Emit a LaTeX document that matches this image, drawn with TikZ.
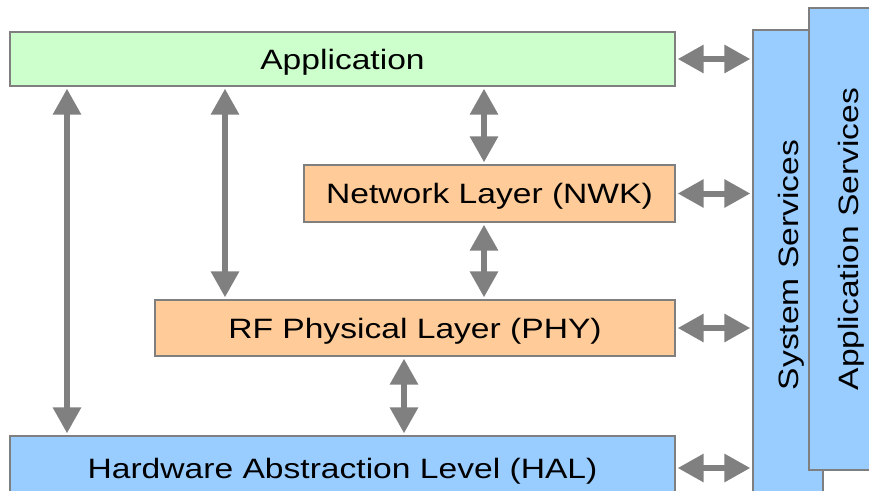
\documentclass[tikz,border=0pt]{standalone}
\usepackage{fontspec}
\setmainfont{Liberation Sans}[FakeStretch=1.2]
\usetikzlibrary{arrows.meta}
\definecolor{boxgreen}{HTML}{CCFFCC}
\definecolor{boxorange}{HTML}{FFCC99}
\definecolor{boxblue}{HTML}{99CCFF}
\definecolor{edgegray}{HTML}{7F7F7F}
\definecolor{arrgray}{HTML}{808080}
\tikzset{
  layer/.style={draw=edgegray, line width=1.3pt, inner sep=0pt, anchor=center,
    font=\fontsize{28}{32}\selectfont, text height=20pt, text depth=0pt},
  dblarrow/.style={draw=arrgray, line width=6pt,
    {Triangle[width=27pt,length=26pt]}-{Triangle[width=27pt,length=26pt]},
    shorten <=2pt, shorten >=2pt}
}
\begin{document}
\begin{tikzpicture}[x=1pt,y=-1pt]
\useasboundingbox (0,0) rectangle (869,490);
\clip (0,0) rectangle (869,490);
\fill[white] (0,0) rectangle (869,490);

% layer boxes
\node[layer, fill=boxgreen, minimum width=665pt, minimum height=54pt] (app) at (342.5,59) {Application};
\node[layer, fill=boxorange, minimum width=371pt, minimum height=57pt] (nwk) at (489.5,193.5) {Network Layer (NWK)};
\node[layer, fill=boxorange, minimum width=520pt, minimum height=56pt] (phy) at (415,328) {RF Physical Layer (PHY)};
\node[layer, fill=boxblue, minimum width=665pt, minimum height=64pt] (hal) at (342.5,468) {Hardware Abstraction Level (HAL)};

% service columns
\node[layer, fill=boxblue, rotate=90, minimum width=470pt, minimum height=70pt] (ss) at (788,265) {System Services};
\node[layer, fill=boxblue, rotate=90, minimum width=462pt, minimum height=78pt] (as) at (848,239) {Application Services};

% horizontal arrows to System Services
\draw[dblarrow] (app.east) -- (app.east -| ss.north);
\draw[dblarrow] (nwk.east) -- (nwk.east -| ss.north);
\draw[dblarrow] (phy.east) -- (phy.east -| ss.north);
\draw[dblarrow] (hal.east) -- (hal.east -| ss.north);

% vertical arrows
\coordinate (xa) at (67,0);
\coordinate (xb) at (225,0);
\coordinate (xc) at (484,0);
\coordinate (xd) at (404,0);
\draw[dblarrow] (app.south -| xa) -- (hal.north -| xa);
\draw[dblarrow] (app.south -| xb) -- (phy.north -| xb);
\draw[dblarrow] (app.south -| xc) -- (nwk.north -| xc);
\draw[dblarrow] (nwk.south -| xc) -- (phy.north -| xc);
\draw[dblarrow] (phy.south -| xd) -- (hal.north -| xd);
\end{tikzpicture}
\end{document}
